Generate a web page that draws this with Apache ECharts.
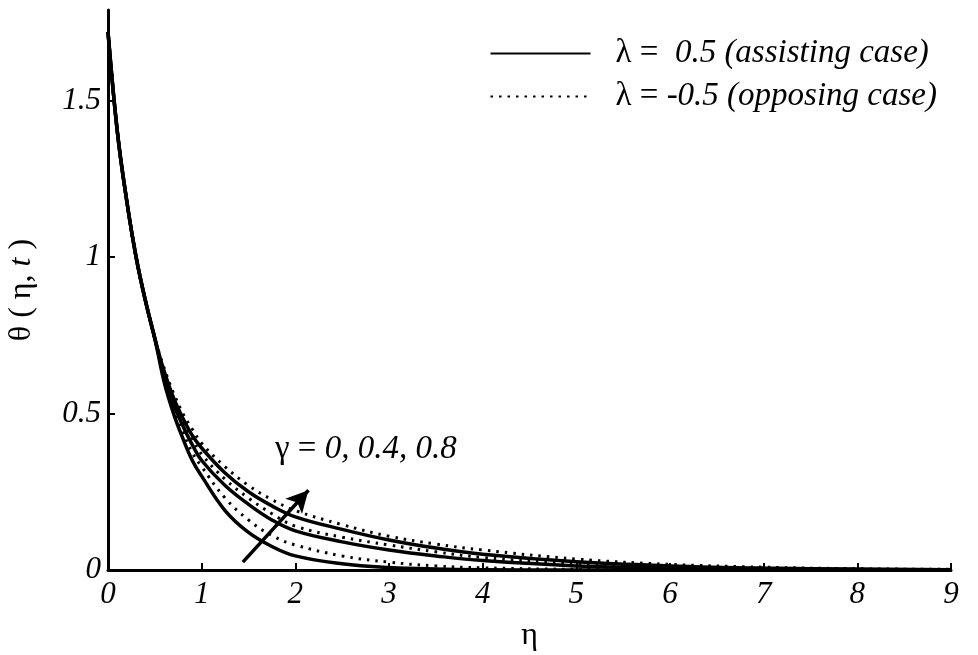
<!DOCTYPE html>
<html>
<head>
<meta charset="utf-8">
<script src="https://cdn.jsdelivr.net/npm/echarts@6/dist/echarts.min.js"></script>
<style>
  html, body { margin: 0; padding: 0; background: #fff; }
  #chart { width: 978px; height: 655px; }
</style>
</head>
<body>
<div id="chart"></div>
<script>
// eta grid
const eta = [0, 0.1, 0.2, 0.3, 0.4, 0.5, 0.6, 0.7, 0.8, 0.9, 1.0, 1.25, 1.5, 1.75, 2, 2.5, 3, 3.5, 4, 5, 6, 7, 8, 9]

// lambda = 0.5 (assisting), solid
const solidG0 = [1.72, 1.40, 1.18, 1.00, 0.86, 0.74, 0.60, 0.50, 0.42, 0.35, 0.30, 0.19, 0.12, 0.075, 0.045, 0.02, 0.008, 0.003, 0.001, 0, 0, 0, 0, 0]
const solidG4 = [1.72, 1.40, 1.18, 1.00, 0.86, 0.74, 0.62, 0.53, 0.46, 0.40, 0.35, 0.27, 0.21, 0.16, 0.125, 0.09, 0.064, 0.045, 0.03, 0.013, 0.006, 0.003, 0.001, 0]
const solidG8 = [1.72, 1.40, 1.18, 1.00, 0.86, 0.74, 0.635, 0.55, 0.485, 0.43, 0.39, 0.31, 0.25, 0.205, 0.17, 0.13, 0.096, 0.07, 0.05, 0.026, 0.013, 0.006, 0.003, 0.001]

// lambda = -0.5 (opposing), dotted
const dotG0 = [1.72, 1.40, 1.18, 1.00, 0.86, 0.74, 0.61, 0.515, 0.44, 0.375, 0.33, 0.23, 0.16, 0.11, 0.08, 0.045, 0.025, 0.013, 0.007, 0.002, 0.0005, 0, 0, 0]
const dotG4 = [1.72, 1.40, 1.18, 1.00, 0.86, 0.74, 0.63, 0.545, 0.475, 0.42, 0.37, 0.29, 0.23, 0.18, 0.14, 0.105, 0.08, 0.058, 0.04, 0.02, 0.01, 0.005, 0.002, 0.001]
const dotG8 = [1.72, 1.40, 1.18, 1.00, 0.86, 0.74, 0.645, 0.565, 0.50, 0.45, 0.405, 0.33, 0.27, 0.225, 0.19, 0.145, 0.108, 0.083, 0.064, 0.035, 0.018, 0.009, 0.004, 0.002]

const xTicks = [0, 1, 2, 3, 4, 5, 6, 7, 8, 9]
const yTicks = [0, 0.5, 1, 1.5]

const nameSolid = 'solid'
const nameDot = 'dot'

const serif = 'Liberation Serif'

function pairs (ys) {
  return eta.map((x, i) => [x, ys[i]])
}

function lineSeries (name, ys, dotted) {
  return {
    name: name,
    type: 'line',
    data: pairs(ys),
    smooth: 0.4,
    symbol: 'none',
    itemStyle: { color: '#000' },
    lineStyle: {
      color: '#000',
      width: dotted ? 3 : 3.5,
      type: dotted ? [2.5, 6] : 'solid'
    },
    z: dotted ? 3 : 2
  }
}

let chart = echarts.init(document.getElementById('chart'))

let series = [
  lineSeries(nameSolid, solidG0, false),
  lineSeries(nameSolid, solidG4, false),
  lineSeries(nameSolid, solidG8, false),
  lineSeries(nameDot, dotG0, true),
  lineSeries(nameDot, dotG4, true),
  lineSeries(nameDot, dotG8, true)
]

// gamma arrow
series[5].markLine = {
  silent: true,
  symbol: ['none', 'arrow'],
  symbolSize: [17, 22],
  label: { show: false },
  lineStyle: { color: '#000', width: 3.5, type: 'solid' },
  data: [[{ coord: [1.44, 0.025] }, { coord: [2.14, 0.255] }]]
}

let option = {
  animation: false,
  backgroundColor: '#fff',
  grid: {
    left: 108,
    right: 27,
    top: 10,
    bottom: 85,
    containLabel: false,
    outerBoundsMode: 'none'
  },
  legend: {
    orient: 'vertical',
    right: 36,
    top: 32,
    itemWidth: 100,
    itemHeight: 14,
    itemGap: 10,
    data: [nameSolid, nameDot],
    itemStyle: { opacity: 0 },
    formatter: function (name) {
      if (name === nameSolid) return '{u|λ =}  {i|0.5 (assisting case)}'
      return '{u|λ =} {i|-0.5 (opposing case)}'
    },
    textStyle: {
      color: '#000',
      fontFamily: serif,
      fontSize: 33,
      rich: {
        u: { fontFamily: serif, fontSize: 33, color: '#000', padding: [0, 0, 0, 20] },
        i: { fontFamily: serif, fontSize: 33, fontStyle: 'italic', color: '#000' }
      }
    }
  },
  xAxis: {
    type: 'value',
    min: 0,
    max: 9,
    interval: 1,
    name: 'η',
    nameLocation: 'middle',
    nameGap: 50,
    nameTextStyle: { fontFamily: serif, fontSize: 32, color: '#000' },
    axisLine: { show: true, lineStyle: { color: '#000', width: 3 } },
    axisTick: { show: true, inside: true, length: 7, lineStyle: { color: '#000', width: 2 }, customValues: xTicks },
    axisLabel: {
      margin: 9,
      fontFamily: serif,
      fontStyle: 'italic',
      fontSize: 31,
      color: '#000',
      customValues: xTicks
    },
    splitLine: { show: false }
  },
  yAxis: {
    type: 'value',
    min: 0,
    max: 1.79,
    name: 'θ ( η, {i|t} )',
    nameLocation: 'middle',
    nameGap: 70,
    nameRotate: 90,
    nameTextStyle: {
      fontFamily: serif,
      fontSize: 32,
      color: '#000',
      rich: { i: { fontFamily: serif, fontSize: 32, fontStyle: 'italic', color: '#000' } }
    },
    axisLine: { show: true, lineStyle: { color: '#000', width: 3 } },
    axisTick: { show: true, inside: true, length: 7, lineStyle: { color: '#000', width: 2 }, customValues: yTicks },
    axisLabel: {
      margin: 7,
      fontFamily: serif,
      fontStyle: 'italic',
      fontSize: 31,
      color: '#000',
      customValues: yTicks
    },
    splitLine: { show: false }
  },
  series: series,
  graphic: [
    {
      type: 'text',
      left: 275,
      top: 433,
      style: {
        text: '{u|γ = }{i|0, 0.4, 0.8}',
        fill: '#000',
        rich: {
          u: { fontFamily: serif, fontSize: 33, fill: '#000' },
          i: { fontFamily: serif, fontSize: 33, fontStyle: 'italic', fill: '#000' }
        }
      }
    }
  ]
}

chart.setOption(option)
</script>
</body>
</html>
